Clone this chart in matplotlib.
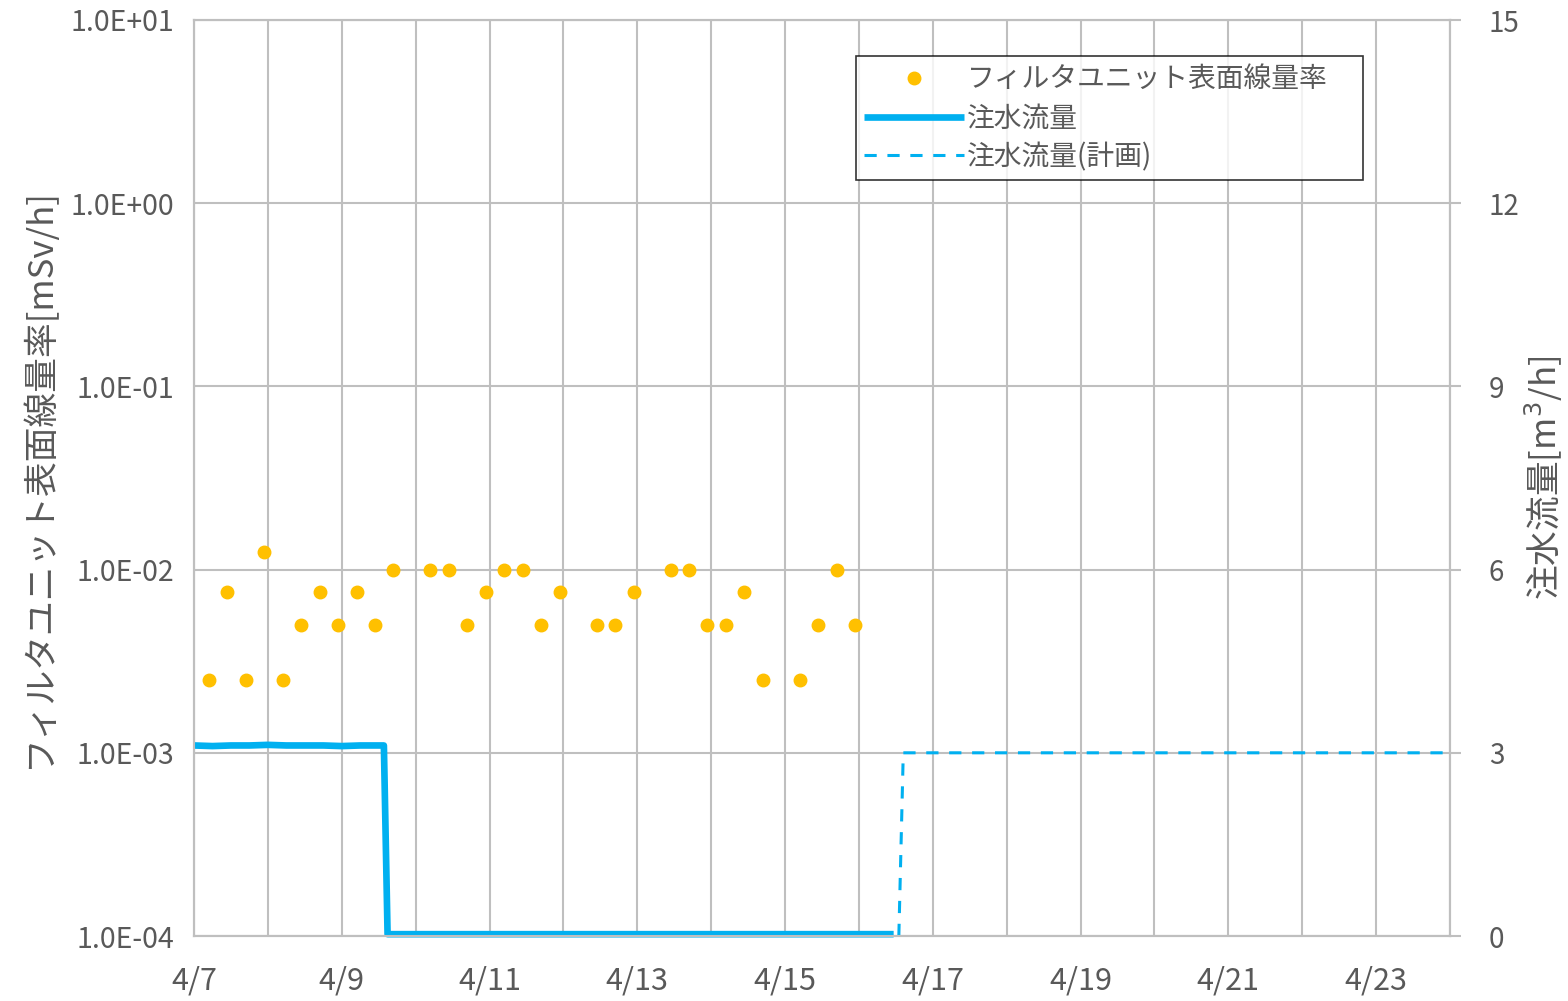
import matplotlib.pyplot as plt
import numpy as np

plt.rcParams['font.family'] = ['Noto Sans CJK JP', 'DejaVu Sans']

# x values are days after 4/7 00:00
dose_t = [0.2 + 0.25 * k for k in range(36)]
dose = [2.5e-3, 7.5e-3, 2.5e-3, 1.25e-2, 2.5e-3, 5e-3, 7.5e-3, 5e-3, 7.5e-3, 5e-3,
        1e-2, np.nan, 1e-2, 1e-2, 5e-3, 7.5e-3, 1e-2, 1e-2, 5e-3, 7.5e-3,
        np.nan, 5e-3, 5e-3, 7.5e-3, np.nan, 1e-2, 1e-2, 5e-3, 5e-3, 7.5e-3,
        2.5e-3, np.nan, 2.5e-3, 5e-3, 1e-2, 5e-3]

flow_t = [0.0, 0.25, 0.5, 0.75, 1.0, 1.25, 1.5, 1.75, 2.0, 2.25, 2.5, 2.57, 2.62, 5.0, 9.47]
flow = [3.12, 3.11, 3.12, 3.12, 3.13, 3.12, 3.12, 3.12, 3.11, 3.12, 3.12, 3.12, 0.03, 0.03, 0.03]

plan_t = [9.54, 9.6, 17.0]
plan = [0.0, 3.0, 3.0]

day_labels = ['4/7', '', '4/9', '', '4/11', '', '4/13', '', '4/15', '', '4/17', '',
              '4/19', '', '4/21', '', '4/23', '']
left_ticks = [1e-4, 1e-3, 1e-2, 1e-1, 1e0, 1e1]
left_labels = ['1.0E-04', '1.0E-03', '1.0E-02', '1.0E-01', '1.0E+00', '1.0E+01']
right_ticks = [0, 3, 6, 9, 12, 15]

txt = '#595959'
grid = '#BFBFBF'
blue = '#00B0F0'

fig = plt.figure(figsize=(15.68, 10.01), dpi=100)
ax = fig.add_axes([194 / 1568, 1 - 936 / 1001, (1450 - 194) / 1568, (936 - 20) / 1001])
ax2 = ax.twinx()

ax.set_yscale('log')
ax.set_ylim(1e-4, 1e1)
ax.set_xlim(0, 17)
ax.set_xticks(range(18))
ax.set_xticklabels(day_labels)
ax.set_yticks(left_ticks)
ax.set_yticklabels(left_labels)
ax.minorticks_off()
ax.grid(True, color=grid, lw=1.5)
ax.set_axisbelow(True)
ax.tick_params(axis='both', length=0, colors=txt)
ax.tick_params(axis='x', pad=21, labelsize=22)
ax.tick_params(axis='y', pad=14, labelsize=20.5)
ax.set_ylabel('フィルタユニット表面線量率[mSv/h]', fontsize=25, color=txt, labelpad=10)

ax2.set_ylim(0, 15)
ax2.set_yticks(right_ticks)
ax2.tick_params(axis='y', length=8, color=grid, width=1.5, labelcolor=txt,
                labelsize=20, pad=20)
ax2.set_ylabel('注水流量[m$^3$/h]', fontsize=25, color=txt, labelpad=2)

for a in (ax, ax2):
    for s in a.spines.values():
        s.set_color(grid)
        s.set_linewidth(1.5)

ax.plot(dose_t, dose, 'o', color='#FFC000', ms=9, zorder=3,
        label='フィルタユニット表面線量率')
ax2.plot(flow_t, flow, color=blue, lw=4.8, clip_on=False, solid_capstyle='butt',
         label='注水流量')
ax2.plot(plan_t, plan, color=blue, lw=2.2, ls=(0, (4, 3.5)), label='注水流量(計画)')

h1, l1 = ax.get_legend_handles_labels()
h2, l2 = ax2.get_legend_handles_labels()
leg = ax2.legend(h1 + h2, l1 + l2, loc='upper left', mode='expand',
                 bbox_to_anchor=((856 - 194) / 1256, 1 - 36 / 916, (1363 - 856) / 1256, 0.0),
                 fontsize=20, frameon=True, fancybox=False, edgecolor='black',
                 handlelength=3.6, handletextpad=0.1, borderpad=0.3, labelspacing=0.32,
                 borderaxespad=0)
leg.get_frame().set_linewidth(1.2)
for t in leg.get_texts():
    t.set_color(txt)

fig.savefig('out.png', dpi=100, facecolor='white')
